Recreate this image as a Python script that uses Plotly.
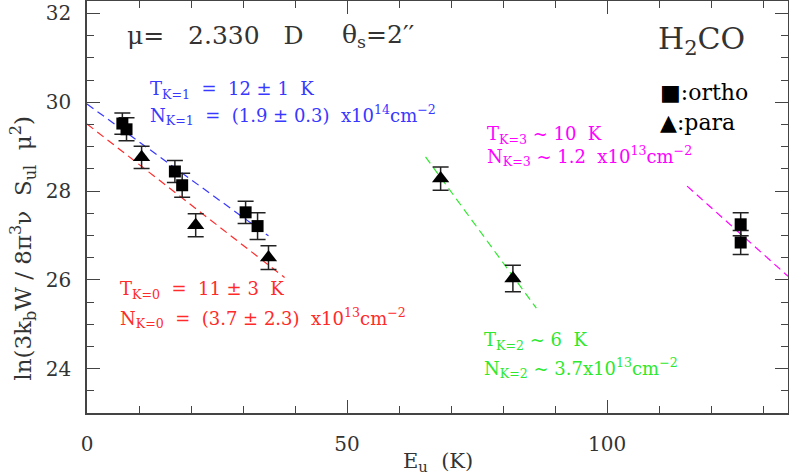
import plotly.graph_objects as go

# ortho lines (squares)
ortho_eu = [6.8, 7.6, 16.9, 18.3, 30.5, 32.8, 125.7, 125.7]
ortho_val = [29.52, 29.39, 28.44, 28.13, 27.52, 27.21, 27.25, 26.84]
ortho_err = [0.24, 0.26, 0.25, 0.27, 0.25, 0.30, 0.26, 0.27]

# para lines (triangles)
para_eu = [10.5, 20.9, 34.9, 68.0, 81.9]
para_val = [28.76, 27.23, 26.50, 28.28, 26.03]
para_err = [0.25, 0.26, 0.27, 0.26, 0.30]

# rotation-diagram fits, one per K ladder
fit_k1_eu = [0.0, 34.9]
fit_k1_val = [29.96, 26.99]
fit_k0_eu = [0.0, 38.0]
fit_k0_val = [29.51, 26.05]
fit_k2_eu = [65.1, 86.4]
fit_k2_val = [28.77, 25.36]
fit_k3_eu = [115.4, 134.8]
fit_k3_val = [28.11, 26.08]

x_ticks = [0, 50, 100]
y_ticks = [24, 26, 28, 30, 32]

FONT = "DejaVu Serif"
BLUE = "#3838ff"
RED = "#ff2a2a"
GREEN = "#2ee82e"
MAGENTA = "#ff00ff"
INK = "#333333"

fig = go.Figure()

fits = [
    (fit_k1_eu, fit_k1_val, BLUE),
    (fit_k0_eu, fit_k0_val, RED),
    (fit_k2_eu, fit_k2_val, GREEN),
    (fit_k3_eu, fit_k3_val, MAGENTA),
]
for xs, ys, col in fits:
    fig.add_trace(go.Scatter(
        x=xs, y=ys, mode="lines",
        line=dict(color=col, width=1.2, dash="8px,5px"),
        hoverinfo="skip", showlegend=False,
    ))

err_style = dict(type="data", color="#222222", thickness=1.5, width=8)

fig.add_trace(go.Scatter(
    x=ortho_eu, y=ortho_val, mode="markers", name="ortho",
    marker=dict(symbol="square", size=12, color="black"),
    error_y=dict(array=ortho_err, **err_style),
    showlegend=False,
))
fig.add_trace(go.Scatter(
    x=para_eu, y=para_val, mode="markers", name="para",
    marker=dict(symbol="triangle-up", size=15, color="black"),
    error_y=dict(array=para_err, **err_style),
    showlegend=False,
))


def note(x, y, text, color, size, anchor="left"):
    fig.add_annotation(
        x=x, y=y, xref="x", yref="y", text=text, showarrow=False,
        xanchor=anchor, yanchor="middle",
        font=dict(family=FONT, size=size, color=color),
    )


note(7.4, 31.5, "μ=   2.330   D", INK, 25)
note(48.6, 31.5, "θ<sub>s</sub>=2′′", INK, 25)
note(127.0, 31.4, "H<sub>2</sub>CO", INK, 30, anchor="right")
note(109.8, 30.22, "■:ortho", "black", 22)
note(109.8, 29.55, "▲:para", "black", 22)

note(11.7, 30.27, "T<sub>K=1</sub>  =  12 ± 1  K", BLUE, 18)
note(11.7, 29.72, "N<sub>K=1</sub>  =  (1.9 ± 0.3)  x10<sup>14</sup>cm<sup>−2</sup>", BLUE, 18)
note(5.9, 25.77, "T<sub>K=0</sub>  =  11 ± 3  K", RED, 18)
note(5.9, 25.14, "N<sub>K=0</sub>  =  (3.7 ± 2.3)  x10<sup>13</sup>cm<sup>−2</sup>", RED, 18)
note(76.5, 29.26, "T<sub>K=3</sub> ~ 10  K", MAGENTA, 18)
note(76.5, 28.78, "N<sub>K=3</sub> ~ 1.2  x10<sup>13</sup>cm<sup>−2</sup>", MAGENTA, 18)
note(75.9, 24.62, "T<sub>K=2</sub> ~ 6  K", GREEN, 18)
note(75.9, 24.01, "N<sub>K=2</sub> ~ 3.7x10<sup>13</sup>cm<sup>−2</sup>", GREEN, 18)

# axis titles placed by hand (the y title sits below the plot centre)
fig.add_annotation(
    x=-0.092, y=0.40, xref="paper", yref="paper",
    text="ln(3k<sub>b</sub>W / 8π<sup>3</sup>ν  S<sub>ul</sub>  μ<sup>2</sup>)",
    textangle=-90, showarrow=False, xanchor="center", yanchor="middle",
    font=dict(family=FONT, size=23, color=INK),
)
fig.add_annotation(
    x=0.5, y=-0.118, xref="paper", yref="paper",
    text="E<sub>u</sub>  (K)", showarrow=False,
    xanchor="center", yanchor="middle",
    font=dict(family=FONT, size=21, color=INK),
)

axis_common = dict(
    showgrid=False, zeroline=False, showline=True, automargin=False,
    linecolor="#444444", linewidth=1.5, mirror="allticks",
    ticks="inside", ticklen=13, tickwidth=1.2, tickcolor="#444444",
    tickfont=dict(family=FONT, size=20, color=INK),
)

fig.update_layout(
    width=789, height=475,
    margin=dict(l=87, r=1, t=1, b=62),
    plot_bgcolor="white", paper_bgcolor="white",
    showlegend=False,
    xaxis=dict(
        range=[0, 134.8], tickvals=x_ticks, ticklabelstandoff=12,
        minor=dict(dtick=10, tick0=0, ticks="inside", ticklen=7,
                   tickcolor="#444444", tickwidth=1.2),
        **axis_common,
    ),
    yaxis=dict(
        range=[23.0, 32.28], tickvals=y_ticks, ticklabelstandoff=10,
        minor=dict(dtick=0.5, tick0=0, ticks="inside", ticklen=7,
                   tickcolor="#444444", tickwidth=1.2),
        **axis_common,
    ),
)

fig.write_html(
    "out.html",
    config={"responsive": False, "displayModeBar": False},
    post_script="document.body.style.margin='0';document.body.style.overflow='hidden';",
)
